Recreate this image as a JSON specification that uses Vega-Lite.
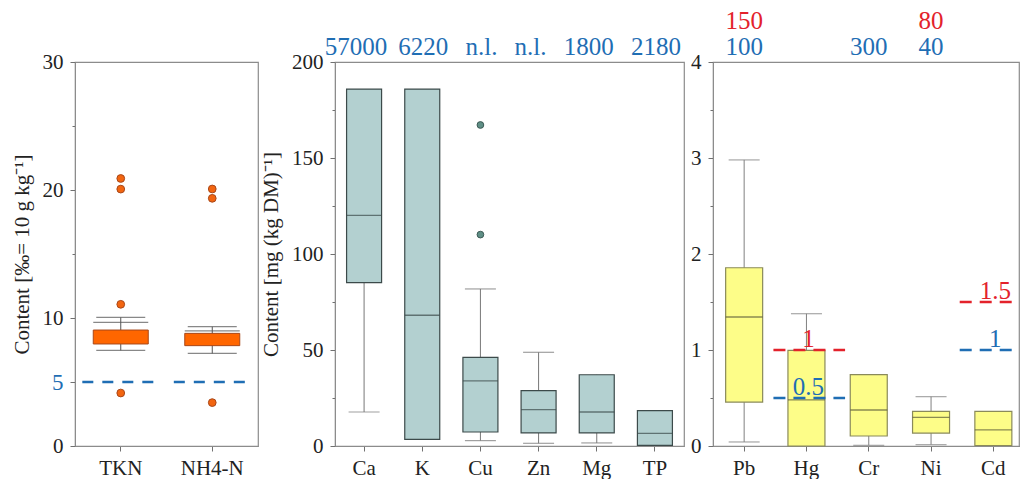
{
  "$schema": "https://vega.github.io/schema/vega-lite/v6.json",
  "autosize": {"type": "pad"},
  "padding": {"left": 10, "top": 8, "right": 0, "bottom": 0},
  "background": "#ffffff",
  "spacing": 0,
  "config": {
    "font": "Liberation Serif",
    "view": {"stroke": "#8c8c8c", "strokeWidth": 1.2},
    "axis": {
      "labelFont": "Liberation Serif", "labelFontSize": 21, "labelColor": "#222222",
      "titleFont": "Liberation Serif", "titleFontSize": 21, "titleFontWeight": "normal", "titleColor": "#222222",
      "domainColor": "#8c8c8c", "tickColor": "#707070", "grid": false, "labelPadding": 7
    },
    "axisX": {"labelAngle": 0, "tickSize": 5, "labelPadding": 6, "title": null}
  },
  "datasets": {
    "n_box": [
      {"cat": "TKN", "lo": 7.47, "q1": 7.97, "q3": 9.06, "hi": 10.05, "hi2": 9.66},
      {"cat": "NH4-N", "lo": 7.23, "q1": 7.84, "q3": 8.8, "hi": 9.32, "hi2": 9.0}
    ],
    "n_out": [
      {"cat": "TKN", "v": 20.9}, {"cat": "TKN", "v": 20.07}, {"cat": "TKN", "v": 11.07}, {"cat": "TKN", "v": 4.14},
      {"cat": "NH4-N", "v": 20.08}, {"cat": "NH4-N", "v": 19.35}, {"cat": "NH4-N", "v": 3.39}
    ],
    "n_lim": [{"cat": "TKN", "v": 5}, {"cat": "NH4-N", "v": 5}],
    "m_box": [
      {"cat": "Ca", "lo": 17.7, "q1": 85.1, "med": 120.1, "q3": 185.9, "hi": 185.9},
      {"cat": "K", "lo": 3.5, "q1": 3.5, "med": 68.1, "q3": 185.9, "hi": 185.9},
      {"cat": "Cu", "lo": 2.8, "q1": 7.3, "med": 33.9, "q3": 46.2, "hi": 81.8},
      {"cat": "Zn", "lo": 1.4, "q1": 6.8, "med": 18.9, "q3": 28.8, "hi": 48.8},
      {"cat": "Mg", "lo": 1.6, "q1": 6.8, "med": 17.7, "q3": 37.1, "hi": 37.1},
      {"cat": "TP", "lo": 0.3, "q1": 0.3, "med": 6.6, "q3": 18.4, "hi": 18.4}
    ],
    "m_out": [{"cat": "Cu", "v": 167.2}, {"cat": "Cu", "v": 110.1}],
    "m_ann": [
      {"cat": "Ca", "label": "57000"}, {"cat": "K", "label": "6220"}, {"cat": "Cu", "label": "n.l."},
      {"cat": "Zn", "label": "n.l."}, {"cat": "Mg", "label": "1800"}, {"cat": "TP", "label": "2180"}
    ],
    "h_box": [
      {"cat": "Pb", "lo": 0.042, "q1": 0.458, "med": 1.344, "q3": 1.857, "hi": 2.98},
      {"cat": "Hg", "lo": 0.0, "q1": 0.0, "med": 0.48, "q3": 0.997, "hi": 1.378},
      {"cat": "Cr", "lo": 0.007, "q1": 0.104, "med": 0.375, "q3": 0.743, "hi": 0.743},
      {"cat": "Ni", "lo": 0.014, "q1": 0.135, "med": 0.299, "q3": 0.361, "hi": 0.514},
      {"cat": "Cd", "lo": 0.005, "q1": 0.005, "med": 0.167, "q3": 0.361, "hi": 0.361}
    ],
    "h_ann": [
      {"cat": "Pb", "label": "100", "kind": "blue"}, {"cat": "Cr", "label": "300", "kind": "blue"},
      {"cat": "Ni", "label": "40", "kind": "blue"}, {"cat": "Pb", "label": "150", "kind": "red"},
      {"cat": "Ni", "label": "80", "kind": "red"}
    ],
    "h_lim": [
      {"cat": "Hg", "v": 1, "label": "1", "kind": "red"}, {"cat": "Hg", "v": 0.5, "label": "0.5", "kind": "blue"},
      {"cat": "Cd", "v": 1.5, "label": "1.5", "kind": "red"}, {"cat": "Cd", "v": 1, "label": "1", "kind": "blue"}
    ]
  },
  "hconcat": [
    {
      "width": 183, "height": 384,
      "layer": [
        {
          "data": {"name": "n_box"},
          "mark": {"type": "rule", "color": "#555555", "strokeWidth": 1},
          "encoding": {
            "x": {"field": "cat", "type": "nominal", "scale": {"domain": ["TKN", "NH4-N"], "paddingInner": 0, "paddingOuter": 0}, "axis": {"title": null}},
            "y": {"field": "lo", "type": "quantitative", "scale": {"domain": [0, 30], "nice": false},
              "axis": {
                "title": "Content [‰= 10 g kg⁻¹]", "titlePadding": 10,
                "values": [0, 5, 10, 15, 20, 25, 30],
                "labelExpr": "datum.value % 10 === 0 || datum.value === 5 ? datum.label : ''",
                "labelColor": {"condition": {"test": "datum.value === 5", "value": "#1f6eb4"}, "value": "#222222"},
                "labelFontSize": {"condition": {"test": "datum.value === 5", "value": 23}, "value": 21},
                "tickSize": {"condition": {"test": "datum.value % 10 === 0 || datum.value === 5", "value": 5}, "value": 3}
              }},
            "y2": {"field": "hi"}
          }
        },
        {
          "data": {"name": "n_box"},
          "mark": {"type": "bar", "size": 55, "fill": "#ff6600", "stroke": "#a8481a", "strokeWidth": 1},
          "encoding": {"x": {"field": "cat", "type": "nominal"}, "y": {"field": "q1", "type": "quantitative"}, "y2": {"field": "q3"}}
        },
        {
          "data": {"name": "n_box"},
          "mark": {"type": "tick", "size": 49, "thickness": 1.2, "color": "#555555"},
          "encoding": {"x": {"field": "cat", "type": "nominal"}, "y": {"field": "hi", "type": "quantitative"}}
        },
        {
          "data": {"name": "n_box"},
          "mark": {"type": "tick", "size": 55, "thickness": 1.2, "color": "#555555"},
          "encoding": {"x": {"field": "cat", "type": "nominal"}, "y": {"field": "hi2", "type": "quantitative"}}
        },
        {
          "data": {"name": "n_box"},
          "mark": {"type": "tick", "size": 49, "thickness": 1.2, "color": "#555555"},
          "encoding": {"x": {"field": "cat", "type": "nominal"}, "y": {"field": "lo", "type": "quantitative"}}
        },
        {
          "data": {"name": "n_out"},
          "mark": {"type": "point", "filled": true, "size": 60, "color": "#f26510", "stroke": "#a8481a", "strokeWidth": 1, "opacity": 1},
          "encoding": {"x": {"field": "cat", "type": "nominal"}, "y": {"field": "v", "type": "quantitative"}}
        },
        {
          "data": {"name": "n_lim"},
          "mark": {"type": "rule", "color": "#1f6eb4", "strokeWidth": 2.6, "strokeDash": [11, 9]},
          "encoding": {
            "x": {"field": "cat", "type": "nominal", "bandPosition": 0.08},
            "x2": {"field": "cat", "bandPosition": 0.9},
            "y": {"field": "v", "type": "quantitative"}
          }
        }
      ]
    },
    {
      "width": 349, "height": 384,
      "layer": [
        {
          "data": {"name": "m_box"},
          "mark": {"type": "rule", "color": "#777777", "strokeWidth": 1},
          "encoding": {
            "x": {"field": "cat", "type": "nominal", "scale": {"domain": ["Ca", "K", "Cu", "Zn", "Mg", "TP"], "paddingInner": 0, "paddingOuter": 0}, "axis": {"title": null}},
            "y": {"field": "lo", "type": "quantitative", "scale": {"domain": [0, 200], "nice": false},
              "axis": {
                "title": "Content [mg (kg DM)⁻¹]", "titlePadding": 10,
                "values": [0, 25, 50, 75, 100, 125, 150, 175, 200],
                "labelExpr": "datum.value % 50 === 0 ? datum.label : ''",
                "tickSize": {"condition": {"test": "datum.value % 50 === 0", "value": 5}, "value": 3}
              }},
            "y2": {"field": "hi"}
          }
        },
        {
          "data": {"name": "m_box"},
          "mark": {"type": "bar", "size": 35, "fill": "#b3d0d0", "stroke": "#3c4a4a", "strokeWidth": 1.2},
          "encoding": {"x": {"field": "cat", "type": "nominal"}, "y": {"field": "q1", "type": "quantitative"}, "y2": {"field": "q3"}}
        },
        {
          "data": {"name": "m_box"},
          "mark": {"type": "tick", "size": 35, "thickness": 1.3, "color": "#3c4a4a"},
          "encoding": {"x": {"field": "cat", "type": "nominal"}, "y": {"field": "med", "type": "quantitative"}}
        },
        {
          "data": {"name": "m_box"},
          "transform": [{"filter": "datum.hi > datum.q3"}],
          "mark": {"type": "tick", "size": 31, "thickness": 1.2, "color": "#777777"},
          "encoding": {"x": {"field": "cat", "type": "nominal"}, "y": {"field": "hi", "type": "quantitative"}}
        },
        {
          "data": {"name": "m_box"},
          "transform": [{"filter": "datum.lo < datum.q1"}],
          "mark": {"type": "tick", "size": 31, "thickness": 1.2, "color": "#777777"},
          "encoding": {"x": {"field": "cat", "type": "nominal"}, "y": {"field": "lo", "type": "quantitative"}}
        },
        {
          "data": {"name": "m_out"},
          "mark": {"type": "point", "filled": true, "size": 45, "color": "#5f8f86", "stroke": "#3c5a55", "strokeWidth": 1, "opacity": 1},
          "encoding": {"x": {"field": "cat", "type": "nominal"}, "y": {"field": "v", "type": "quantitative"}}
        },
        {
          "data": {"name": "m_ann"},
          "transform": [{"filter": "datum.cat === 'Ca' || datum.cat === 'Zn' || datum.cat === 'Mg'"}],
          "mark": {"type": "text", "fontSize": 25, "color": "#1f6eb4", "baseline": "alphabetic", "dy": -7, "dx": -8, "font": "Liberation Serif"},
          "encoding": {"x": {"field": "cat", "type": "nominal"}, "y": {"datum": 200, "type": "quantitative"}, "text": {"field": "label"}}
        },
        {
          "data": {"name": "m_ann"},
          "transform": [{"filter": "datum.cat !== 'Ca' && datum.cat !== 'Zn' && datum.cat !== 'Mg'"}],
          "mark": {"type": "text", "fontSize": 25, "color": "#1f6eb4", "baseline": "alphabetic", "dy": -7, "dx": 1, "font": "Liberation Serif"},
          "encoding": {"x": {"field": "cat", "type": "nominal"}, "y": {"datum": 200, "type": "quantitative"}, "text": {"field": "label"}}
        }
      ]
    },
    {
      "width": 306, "height": 384,
      "layer": [
        {
          "data": {"name": "h_box"},
          "mark": {"type": "rule", "color": "#808080", "strokeWidth": 1},
          "encoding": {
            "x": {"field": "cat", "type": "nominal", "scale": {"domain": ["Pb", "Hg", "Cr", "Ni", "Cd"], "paddingInner": 0, "paddingOuter": 0, "range": [0, 311.5]}, "axis": {"title": null}},
            "y": {"field": "lo", "type": "quantitative", "scale": {"domain": [0, 4], "nice": false},
              "axis": {
                "title": null, "minExtent": 27,
                "values": [0, 0.5, 1, 1.5, 2, 2.5, 3, 3.5, 4],
                "labelExpr": "datum.value % 1 === 0 ? format(datum.value, 'd') : ''",
                "tickSize": {"condition": {"test": "datum.value % 1 === 0", "value": 5}, "value": 3}
              }},
            "y2": {"field": "hi"}
          }
        },
        {
          "data": {"name": "h_box"},
          "mark": {"type": "bar", "size": 37, "fill": "#fdfd88", "stroke": "#8a8a5a", "strokeWidth": 1.2},
          "encoding": {"x": {"field": "cat", "type": "nominal"}, "y": {"field": "q1", "type": "quantitative"}, "y2": {"field": "q3"}}
        },
        {
          "data": {"name": "h_box"},
          "mark": {"type": "tick", "size": 37, "thickness": 1.3, "color": "#5a5a3a"},
          "encoding": {"x": {"field": "cat", "type": "nominal"}, "y": {"field": "med", "type": "quantitative"}}
        },
        {
          "data": {"name": "h_box"},
          "transform": [{"filter": "datum.hi > datum.q3"}],
          "mark": {"type": "tick", "size": 31, "thickness": 1.2, "color": "#808080"},
          "encoding": {"x": {"field": "cat", "type": "nominal"}, "y": {"field": "hi", "type": "quantitative"}}
        },
        {
          "data": {"name": "h_box"},
          "transform": [{"filter": "datum.lo < datum.q1"}],
          "mark": {"type": "tick", "size": 31, "thickness": 1.2, "color": "#808080"},
          "encoding": {"x": {"field": "cat", "type": "nominal"}, "y": {"field": "lo", "type": "quantitative"}}
        },
        {
          "data": {"name": "h_lim"},
          "transform": [{"filter": "datum.cat === 'Hg'"}],
          "mark": {"type": "rule", "strokeWidth": 2.6, "strokeDash": [12, 8]},
          "encoding": {
            "x": {"field": "cat", "type": "nominal", "bandPosition": -0.03},
            "x2": {"field": "cat", "bandPosition": 1.12},
            "y": {"field": "v", "type": "quantitative"},
            "color": {"field": "kind", "type": "nominal", "scale": {"domain": ["blue", "red"], "range": ["#1f6eb4", "#e3222b"]}, "legend": null}
          }
        },
        {
          "data": {"name": "h_lim"},
          "transform": [{"filter": "datum.cat === 'Cd'"}],
          "mark": {"type": "rule", "strokeWidth": 2.6, "strokeDash": [12, 8]},
          "encoding": {
            "x": {"field": "cat", "type": "nominal", "bandPosition": -0.04},
            "x2": {"field": "cat", "bandPosition": 0.89},
            "y": {"field": "v", "type": "quantitative"},
            "color": {"field": "kind", "type": "nominal", "legend": null}
          }
        },
        {
          "data": {"name": "h_lim"},
          "mark": {"type": "text", "fontSize": 25, "baseline": "alphabetic", "dy": -3, "dx": 2, "font": "Liberation Serif"},
          "encoding": {
            "x": {"field": "cat", "type": "nominal"},
            "y": {"field": "v", "type": "quantitative"},
            "text": {"field": "label"},
            "color": {"field": "kind", "type": "nominal", "legend": null}
          }
        },
        {
          "data": {"name": "h_ann"},
          "transform": [{"filter": "datum.kind === 'blue'"}],
          "mark": {"type": "text", "fontSize": 25, "color": "#1f6eb4", "baseline": "alphabetic", "dy": -7, "font": "Liberation Serif"},
          "encoding": {"x": {"field": "cat", "type": "nominal"}, "y": {"datum": 4, "type": "quantitative"}, "text": {"field": "label"}}
        },
        {
          "data": {"name": "h_ann"},
          "transform": [{"filter": "datum.kind === 'red'"}],
          "mark": {"type": "text", "fontSize": 25, "color": "#e3222b", "baseline": "alphabetic", "dy": -33, "font": "Liberation Serif"},
          "encoding": {"x": {"field": "cat", "type": "nominal"}, "y": {"datum": 4, "type": "quantitative"}, "text": {"field": "label"}}
        }
      ]
    }
  ]
}
